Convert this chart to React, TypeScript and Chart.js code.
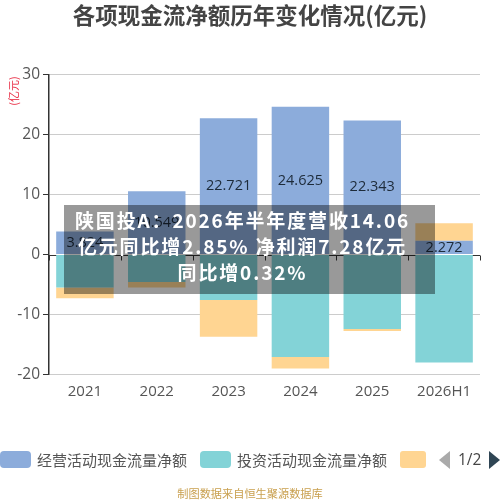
import { useEffect, useRef } from 'react';
import { Chart, registerables } from 'chart.js';
Chart.register(...registerables);

const years = ['2021', '2022', '2023', '2024', '2025', '2026H1'];
const operating = [3.824, 10.549, 22.721, 24.625, 22.343, 2.272];
const investing = [-5.5, -4.6, -7.6, -17.1, -12.4, -18.0];
const financing = [-1.8, -0.9, -6.1, -1.9, -0.35, 2.95];
const yTicks = [30, 20, 10, 0, -10, -20];

const sans = '"Open Sans", "Noto Sans CJK SC", sans-serif';
const cjk = '"Noto Sans CJK SC", sans-serif';

// zero axis with its tick marks, x labels stay at the bottom
const zeroAxis = {
  id: 'zeroAxis',
  beforeDatasetsDraw(chart: any) {
    const { ctx, scales, chartArea } = chart;
    const y0 = Math.round(scales.y.getPixelForValue(0)) + 0.5;
    const step = (chartArea.right - chartArea.left) / years.length;
    ctx.save();
    ctx.strokeStyle = '#333';
    ctx.lineWidth = 1;
    ctx.beginPath();
    ctx.moveTo(chartArea.left, y0);
    ctx.lineTo(chartArea.right, y0);
    for (let i = 0; i <= years.length; i++) {
      const x = Math.round(chartArea.left + step * i) + 0.5;
      ctx.moveTo(x, y0);
      ctx.lineTo(x, y0 + 5);
    }
    ctx.stroke();
    ctx.restore();
  },
};

const barLabels = {
  id: 'barLabels',
  afterDatasetsDraw(chart: any) {
    const { ctx } = chart;
    ctx.save();
    ctx.font = `14.5px ${sans}`;
    ctx.fillStyle = '#1d2b3a';
    ctx.textAlign = 'center';
    ctx.textBaseline = 'middle';
    chart.getDatasetMeta(0).data.forEach((el: any, i: number) => {
      const c = el.getCenterPoint();
      ctx.fillText(operating[i].toFixed(3), c.x, c.y);
    });
    ctx.restore();
  },
};

const abs = (s: React.CSSProperties): React.CSSProperties => ({ position: 'absolute', whiteSpace: 'nowrap', ...s });

export default function App() {
  const ref = useRef<HTMLCanvasElement>(null);

  useEffect(() => {
    const chart = new Chart(ref.current!, {
      type: 'bar',
      data: {
        labels: years,
        datasets: [
          { label: '经营活动现金流量净额', data: operating, backgroundColor: '#8CACDB' },
          { label: '投资活动现金流量净额', data: investing, backgroundColor: '#83D3D7' },
          { label: '筹资活动现金流量净额', data: financing, backgroundColor: '#FFD592' },
        ],
      },
      plugins: [zeroAxis, barLabels],
      options: {
        animation: false,
        responsive: false,
        layout: { padding: { left: 0, right: 20, top: 74.5, bottom: 95.5 } },
        plugins: { legend: { display: false }, title: { display: false }, tooltip: { enabled: false } },
        datasets: { bar: { categoryPercentage: 0.8, barPercentage: 1 } },
        scales: {
          x: {
            stacked: true,
            afterFit: (s: any) => { s.height = 30; },
            grid: { display: false },
            border: { display: false },
            ticks: { color: '#555', font: { size: 15, family: sans }, padding: 0, maxRotation: 0, autoSkip: false },
          },
          y: {
            stacked: true,
            min: -20,
            max: 30,
            afterFit: (s: any) => { s.width = 49; },
            afterBuildTicks: (s: any) => { s.ticks = yTicks.map((value) => ({ value })); },
            grid: {
              color: (c: any) => (c.tick?.value === 0 ? 'rgba(0,0,0,0)' : '#ccc'),
              tickColor: '#333',
              tickLength: 6,
            },
            border: { color: '#333', width: 1.5 },
            ticks: { color: '#555', font: { size: 15.5, family: sans }, padding: 3 },
          },
        },
      },
    });
    return () => chart.destroy();
  }, []);

  return (
    <div style={{ position: 'absolute', left: 0, top: 0, width: 500, height: 500, overflow: 'hidden', background: '#fff' }}>
      <canvas ref={ref} width={500} height={500} style={{ display: 'block' }} />

      <div style={abs({ left: 0, width: 500, top: -2, textAlign: 'center', font: `bold 22.5px/32px ${cjk}`, color: '#444' })}>
        各项现金流净额历年变化情况(亿元)
      </div>
      <div style={abs({ left: -9, top: 84, width: 44, textAlign: 'center', transform: 'rotate(-90deg)', font: `11px/14px ${cjk}`, color: '#e8263e' })}>
        (亿元)
      </div>

      {/* legend, cut off by its paging like the original */}
      <div style={abs({ left: 0, top: 451, width: 31, height: 17, borderRadius: 4, background: '#8CACDB' })} />
      <div style={abs({ left: 37, top: 448, font: `15px/24px ${cjk}`, color: '#555' })}>经营活动现金流量净额</div>
      <div style={abs({ left: 200, top: 451, width: 31, height: 17, borderRadius: 4, background: '#83D3D7' })} />
      <div style={abs({ left: 237, top: 448, font: `15px/24px ${cjk}`, color: '#555' })}>投资活动现金流量净额</div>
      <div style={abs({ left: 400, top: 451, width: 26, height: 17, borderRadius: 3, background: '#FFD592' })} />
      <div style={abs({ left: 439, top: 451, width: 0, height: 0, borderTop: '9px solid transparent', borderBottom: '9px solid transparent', borderRight: '11px solid #aaa' })} />
      <div style={abs({ left: 458, top: 447, font: `15.5px/24px ${sans}`, color: '#444' })}>1/2</div>
      <div style={abs({ left: 489, top: 451, width: 0, height: 0, borderTop: '9px solid transparent', borderBottom: '9px solid transparent', borderLeft: '11px solid #2f4554' })} />

      <div style={abs({ left: 0, width: 500, top: 485, textAlign: 'center', font: `11.2px/16px ${cjk}`, color: '#c9a04f' })}>
        制图数据来自恒生聚源数据库
      </div>

      {/* headline banner on top of the chart */}
      <div style={abs({ left: 64, top: 205, width: 371, height: 89, background: 'rgba(0,0,0,0.4)', color: '#fff', textAlign: 'center', font: `bold 19px/26px ${cjk}`, letterSpacing: 1.85, paddingTop: 2, paddingRight: 14, boxSizing: 'border-box', whiteSpace: 'normal' })}>
        陕国投A：2026年半年度营收14.06<br />亿元同比增2.85% 净利润7.28亿元<br />同比增0.32%
      </div>
    </div>
  );
}
